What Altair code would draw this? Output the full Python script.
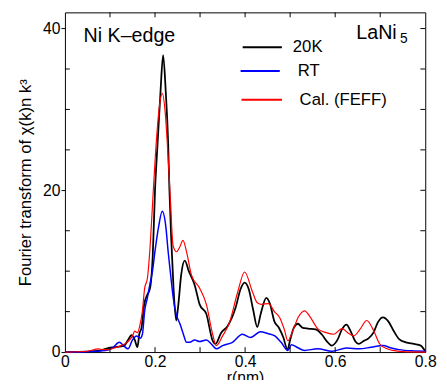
import altair as alt
import pandas as pd

# ---------------- data ----------------
r_20k = [0.000, 0.050, 0.080, 0.096, 0.110, 0.125, 0.132, 0.140, 0.148, 0.155, 0.161, 0.165,
         0.170, 0.176, 0.183, 0.189, 0.195, 0.200, 0.206, 0.212, 0.218, 0.224, 0.229, 0.232,
         0.236, 0.241, 0.247, 0.252, 0.258, 0.266, 0.275, 0.288, 0.299, 0.314, 0.328, 0.334,
         0.347, 0.361, 0.379, 0.390, 0.399, 0.408, 0.418, 0.427, 0.435, 0.447, 0.455, 0.465,
         0.475, 0.485, 0.494, 0.500, 0.508, 0.517, 0.528, 0.540, 0.557, 0.570, 0.582, 0.592,
         0.605, 0.615, 0.625, 0.635, 0.645, 0.652, 0.664, 0.674, 0.685, 0.695, 0.706, 0.718,
         0.730, 0.742, 0.757, 0.775, 0.790, 0.800]
v_20k = [0.0, 0.05, 0.2, 0.5, 0.6, 0.7, 0.8, 1.5, 2.1, 1.5, 0.6, 2.2,
         3.0, 5.9, 7.1, 7.9, 12.0, 20.0, 26.1, 32.0, 36.7, 32.0, 26.1, 20.0,
         14.0, 8.0, 3.9, 6.0, 9.5, 11.3, 10.0, 8.3, 5.9, 4.7, 1.4, 1.0,
         2.4, 3.2, 5.5, 7.8, 8.6, 7.8, 5.2, 3.1, 4.8, 6.7, 6.0, 3.8,
         3.0, 1.8, 0.3, 1.5, 3.0, 3.5, 3.0, 2.9, 2.8, 2.2, 1.3, 0.8,
         1.5, 2.8, 3.4, 2.5, 1.3, 1.0, 1.4, 1.7, 2.4, 3.7, 4.3, 3.8,
         2.6, 1.6, 1.2, 1.0, 0.8, 0.1]

r_rt = [0.000, 0.050, 0.090, 0.105, 0.121, 0.130, 0.140, 0.150, 0.159, 0.167, 0.172, 0.177,
        0.183, 0.189, 0.194, 0.200, 0.208, 0.216, 0.224, 0.229, 0.234, 0.241, 0.247, 0.256,
        0.263, 0.270, 0.277, 0.288, 0.299, 0.314, 0.325, 0.336, 0.350, 0.372, 0.394, 0.412,
        0.434, 0.450, 0.466, 0.480, 0.495, 0.503, 0.515, 0.532, 0.561, 0.593, 0.625, 0.654,
        0.680, 0.706, 0.725, 0.742, 0.770, 0.800]
v_rt = [0.0, 0.05, 0.2, 0.5, 1.2, 0.8, 0.4, 1.5, 2.0, 1.7, 2.2, 5.1,
        6.7, 8.5, 9.9, 12.5, 15.5, 17.4, 15.5, 12.5, 9.9, 6.5, 4.7, 3.4,
        2.2, 1.2, 1.2, 1.5, 1.3, 1.5, 1.0, 0.4, 0.8, 1.2, 2.2, 1.8,
        2.5, 2.3, 2.0, 1.2, 0.2, 0.9, 0.6, 0.2, 0.4, 0.1, 0.5, 0.4,
        0.6, 0.8, 0.5, 0.3, 0.15, 0.1]

r_cal = [0.000, 0.050, 0.074, 0.085, 0.096, 0.110, 0.125, 0.140, 0.150, 0.155, 0.161, 0.166,
         0.172, 0.177, 0.183, 0.189, 0.195, 0.203, 0.210, 0.216, 0.222, 0.227, 0.234, 0.240,
         0.248, 0.255, 0.262, 0.270, 0.281, 0.299, 0.314, 0.328, 0.336, 0.350, 0.365, 0.383,
         0.399, 0.416, 0.427, 0.437, 0.452, 0.465, 0.477, 0.487, 0.495, 0.505, 0.518, 0.532,
         0.545, 0.561, 0.580, 0.597, 0.615, 0.628, 0.641, 0.655, 0.670, 0.685, 0.699, 0.715,
         0.728, 0.750, 0.800]
v_cal = [0.0, 0.1, 0.4, 0.3, 0.3, 0.5, 0.8, 1.3, 2.0, 2.6, 2.4, 3.2,
         5.1, 7.9, 9.1, 13.0, 18.8, 26.1, 30.5, 32.0, 30.0, 26.1, 19.0, 13.2,
         12.4, 13.0, 13.8, 12.4, 9.5, 7.9, 5.9, 2.2, 0.8, 2.0, 3.6, 7.3,
         9.9, 7.5, 6.1, 5.9, 6.0, 5.0, 4.25, 2.8, 1.4, 2.5, 4.3, 5.1,
         4.3, 2.9, 2.4, 2.2, 2.9, 2.4, 2.0, 2.8, 3.9, 2.7, 1.0, 0.4,
         0.2, 0.05, 0.0]

series_names = ["20K", "RT", "Cal. (FEFF)"]
series_colors = ["#000000", "#0000ff", "#ff0000"]

x_major = [0.0, 0.2, 0.4, 0.6, 0.8]
x_all = [0.1, 0.2, 0.3, 0.4, 0.5, 0.6, 0.7]
y_major = [0, 20, 40]
y_all = [5, 10, 15, 20, 25, 30, 35, 40]
y_minor = [5, 10, 15, 25, 30, 35]

# annotation / legend layout (data-space positions)
leg_y = [37.7, 34.75, 31.2]
leg_x1 = [0.3946, 0.390, 0.392]
leg_x2 = [0.4817, 0.477, 0.482]
leg_tx = [0.506, 0.517, 0.521]

# ---------------- build tables ----------------
frames = []
for name, rr, vv in zip(series_names, [r_20k, r_rt, r_cal], [v_20k, v_rt, v_cal]):
    frames.append(pd.DataFrame({"r": rr, "v": vv, "series": name}))
df = pd.concat(frames, ignore_index=True)
order_map = {"20K": 0, "Cal. (FEFF)": 1, "RT": 2}
df["ord"] = df["series"].map(order_map)

leg = pd.DataFrame({"series": series_names, "y": leg_y, "x1": leg_x1, "x2": leg_x2, "tx": leg_tx})

W, H = 367, 346
XMAX, YMAX = 0.8, 42.0
TICK_PX = 5
tx_len = TICK_PX * XMAX / W    # tick length in x units
ty_len = TICK_PX * YMAX / H    # tick length in y units

FONT = "Liberation Sans"
xs = alt.Scale(domain=[0, XMAX], nice=False, zero=False)
ys = alt.Scale(domain=[0, YMAX], nice=False, zero=False)
cs = alt.Scale(domain=series_names, range=series_colors)

x_label_expr = "datum.value == 0 ? '0' : format(datum.value, '.1f')"

lines = alt.Chart(df).mark_line(interpolate="monotone").encode(
    x=alt.X("r:Q", scale=xs, axis=alt.Axis(
        orient="bottom", values=x_major, ticks=False, tickSize=0, domain=False, grid=False,
        labelExpr=x_label_expr, labelFlush=False, labelOverlap=False, labelFont=FONT,
        labelFontSize=16, labelColor="black", labelPadding=2,
        title="r(nm)", titleFont=FONT, titleFontSize=16, titleFontWeight="normal",
        titleColor="black", titlePadding=0)),
    y=alt.Y("v:Q", scale=ys, axis=alt.Axis(
        orient="left", values=y_major, ticks=True, tickSize=4, tickColor="black",
        domain=False, grid=False, labelFont=FONT, labelFontSize=16, labelColor="black",
        labelPadding=1, labelFlush=False, labelOverlap=False,
        title="Fourier transform of χ(k)n k³", titleFont=FONT, titleFontSize=17,
        titleFontWeight="normal", titleColor="black", titlePadding=8)),
    color=alt.Color("series:N", scale=cs, legend=None),
    strokeWidth=alt.StrokeWidth("series:N", scale=alt.Scale(domain=series_names, range=[1.8, 1.2, 1.5]), legend=None),
    order=alt.Order("ord:Q"),
    detail="series:N",
)

# inner tick marks on the frame, built from the tick value lists
xt = pd.DataFrame({"t": x_all})
xt["b0"], xt["b1"] = 0.0, ty_len
xt["u0"], xt["u1"] = YMAX - ty_len, YMAX
ylt = pd.DataFrame({"t": y_minor})
ylt["a0"], ylt["a1"] = 0.0, tx_len
yrt = pd.DataFrame({"t": y_all})
yrt["a0"], yrt["a1"] = XMAX - tx_len, XMAX

def rule(d, x, x2, y, y2):
    return alt.Chart(d).mark_rule(color="black", strokeWidth=1).encode(
        x=alt.X(x, scale=xs, axis=None), x2=x2,
        y=alt.Y(y, scale=ys, axis=None), y2=y2)

tick_bottom = rule(xt, "t:Q", "t:Q", "b0:Q", "b1:Q")
tick_top = rule(xt, "t:Q", "t:Q", "u0:Q", "u1:Q")
tick_left = rule(ylt, "a0:Q", "a1:Q", "t:Q", "t:Q")
tick_right = rule(yrt, "a0:Q", "a1:Q", "t:Q", "t:Q")

ann1 = pd.DataFrame({"t": ["Ni K–edge"], "x": [0.0414], "y": [38.3]})
ann2 = pd.DataFrame({"t": ["LaNi"], "x": [0.647], "y": [38.7]})
ann3 = pd.DataFrame({"t": ["5"], "x": [0.744], "y": [38.2]})

def text_layer(d, size):
    return alt.Chart(d).mark_text(align="left", baseline="alphabetic", font=FONT,
                                  fontSize=size, color="black").encode(
        x=alt.X("x:Q", scale=xs, axis=None), y=alt.Y("y:Q", scale=ys, axis=None), text="t:N")

t1 = text_layer(ann1, 20)
t2 = text_layer(ann2, 20)
t3 = text_layer(ann3, 14)

leg_lines = alt.Chart(leg).mark_rule(strokeWidth=2).encode(
    x=alt.X("x1:Q", scale=xs, axis=None), x2="x2:Q", y=alt.Y("y:Q", scale=ys, axis=None),
    color=alt.Color("series:N", scale=cs, legend=None),
)
leg_text = alt.Chart(leg).mark_text(align="left", baseline="middle", font=FONT,
                                    fontSize=17, color="black").encode(
    x=alt.X("tx:Q", scale=xs, axis=None), y=alt.Y("y:Q", scale=ys, axis=None), text="series:N")

chart = alt.layer(lines, tick_bottom, tick_top, tick_left, tick_right,
                  t1, t2, t3, leg_lines, leg_text).resolve_axis(
    x="independent", y="independent"
).properties(
    width=W, height=H,
    autosize=alt.AutoSizeParams(type="none"),
    padding={"left": 58, "top": 1, "right": 14, "bottom": 25},
    background="white",
).configure_view(stroke="black", strokeWidth=1)

chart.save("out.html", embed_options={"renderer": "svg", "actions": False})
